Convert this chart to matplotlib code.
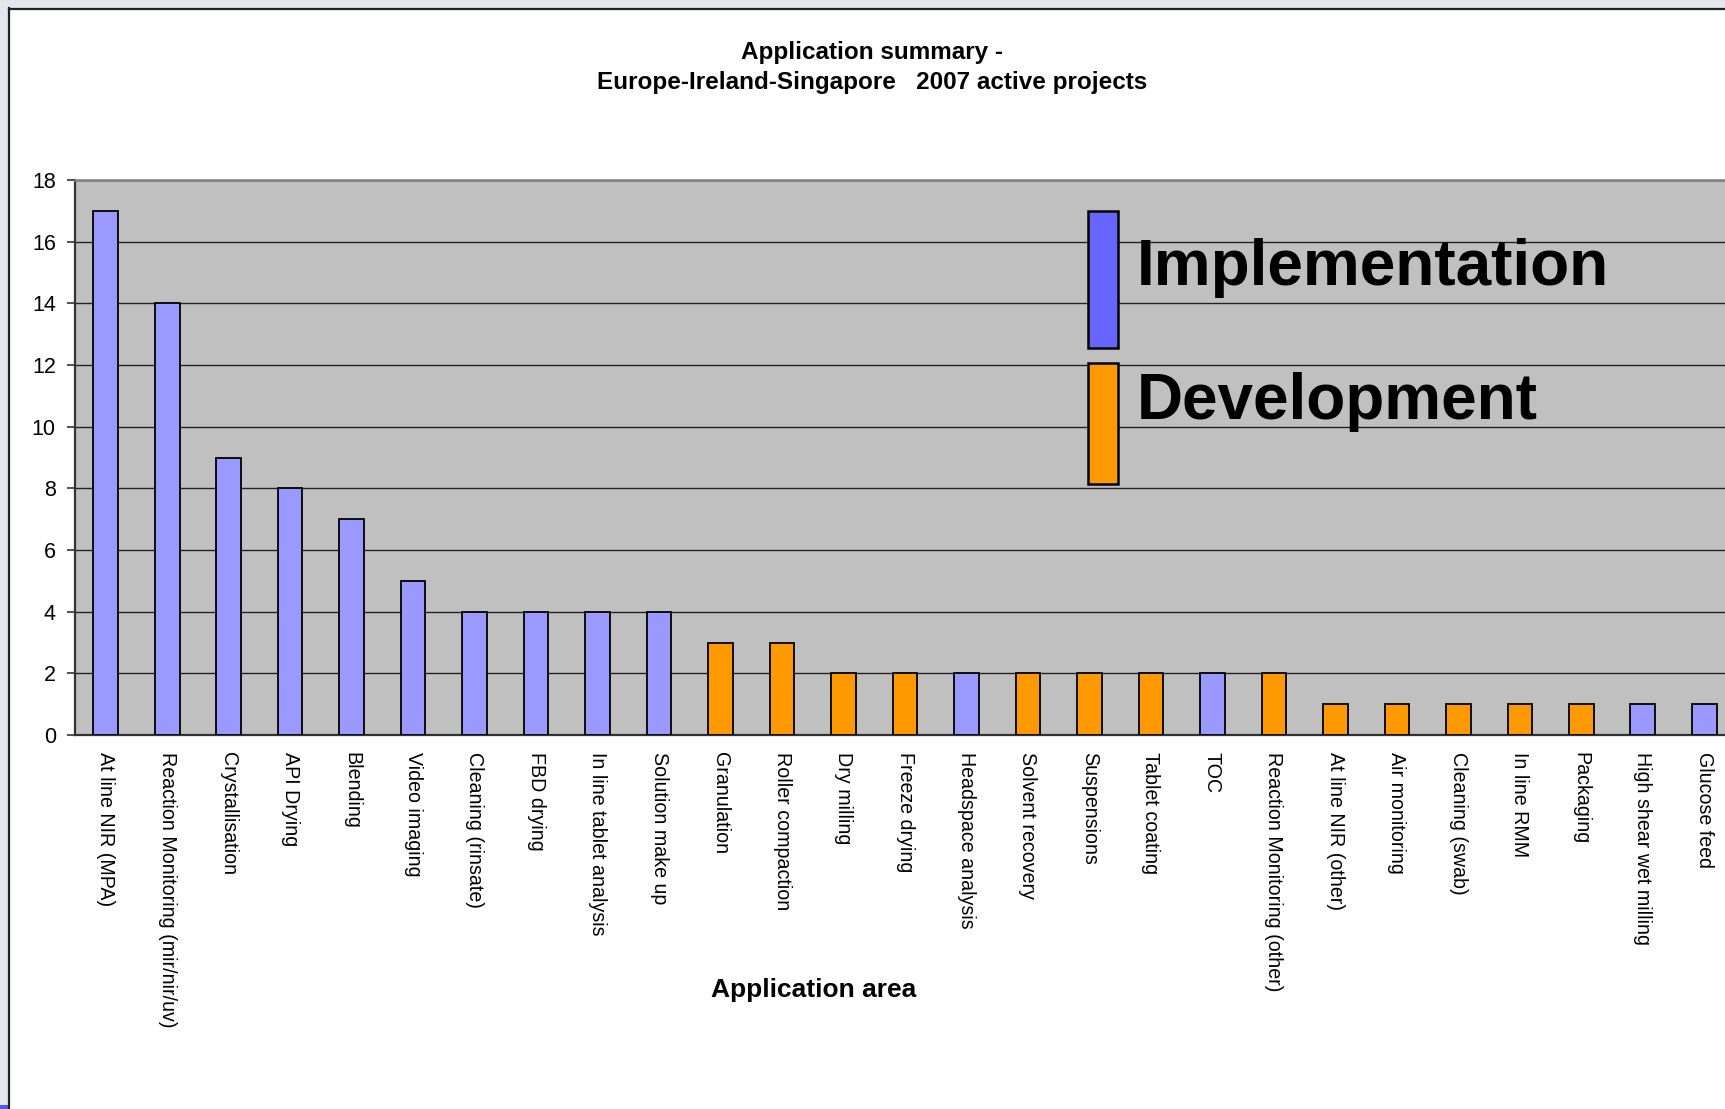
import matplotlib
matplotlib.use('Agg')
import matplotlib.pyplot as plt
from matplotlib.patches import Rectangle

# Project counts per application area, with the stage of each project
areas = ['At line NIR (MPA)', 'Reaction Monitoring (mir/nir/uv)', 'Crystallisation',
         'API Drying', 'Blending', 'Video imaging', 'Cleaning (rinsate)', 'FBD drying',
         'In line tablet analysis', 'Solution make up', 'Granulation', 'Roller compaction',
         'Dry milling', 'Freeze drying', 'Headspace analysis', 'Solvent recovery',
         'Suspensions', 'Tablet coating', 'TOC', 'Reaction Monitoring (other)',
         'At line NIR (other)', 'Air monitoring', 'Cleaning (swab)', 'In line RMM',
         'Packaging', 'High shear wet milling', 'Glucose feed']
projects = [17, 14, 9, 8, 7, 5, 4, 4, 4, 4, 3, 3, 2, 2, 2, 2, 2, 2, 2, 2,
            1, 1, 1, 1, 1, 1, 1]
stage = ['Implementation'] * 10 + ['Development'] * 4 + ['Implementation'] \
    + ['Development'] * 3 + ['Implementation'] + ['Development'] * 6 \
    + ['Implementation'] * 2
yticks = [0, 2, 4, 6, 8, 10, 12, 14, 16, 18]

bar_colours = {'Implementation': '#9999FF', 'Development': '#FF9900'}
key_colours = {'Implementation': '#6666FF', 'Development': '#FF9900'}

W, H = 1725, 1109
plt.rcParams['font.family'] = ['Liberation Sans', 'DejaVu Sans']

fig = plt.figure(figsize=(W / 100, H / 100), dpi=100)
fig.patch.set_facecolor('white')

# window-like frame round the chart
fig.add_artist(Rectangle((0, 0), 9 / W, 1, transform=fig.transFigure,
                         facecolor='#E6E7EE', edgecolor='none'))
fig.add_artist(Rectangle((0, 1 - 8 / H), 1, 8 / H, transform=fig.transFigure,
                         facecolor='#E6E7EE', edgecolor='none'))
fig.add_artist(plt.Line2D([9 / W, 9 / W], [0, 1 - 8 / H], transform=fig.transFigure,
                          color='#222222', lw=1.6))
fig.add_artist(plt.Line2D([9 / W, 1], [1 - 9 / H, 1 - 9 / H], transform=fig.transFigure,
                          color='#222222', lw=1.6))
fig.add_artist(Rectangle((0, 0), 8 / W, 4 / H, transform=fig.transFigure,
                         facecolor='#5555FF', edgecolor='none'))

left, right, top, bottom = 75, 1735, 180, 735
ax = fig.add_axes([left / W, 1 - bottom / H, (right - left) / W, (bottom - top) / H])
ax.set_facecolor('#C0C0C0')

x = range(len(areas))
ax.bar(x, projects, width=0.4, color=[bar_colours[s] for s in stage],
       edgecolor='black', linewidth=1.3, zorder=3)

ax.set_xlim(-0.5, len(areas) - 0.5)
ax.set_ylim(0, 18)
ax.set_yticks(yticks)
ax.yaxis.grid(True, color='#222222', linewidth=1.0, zorder=1)
ax.set_axisbelow(True)
ax.tick_params(axis='y', labelsize=15.5, length=5.8, width=1.2, pad=8, color='#333333')
ax.set_xticks(list(x))
ax.set_xticklabels(areas, rotation=270, fontsize=14.1, va='top', ha='center')
ax.tick_params(axis='x', length=0, pad=12)

ax.spines['top'].set_color('#808080')
ax.spines['top'].set_linewidth(1.8)
ax.spines['right'].set_visible(False)
ax.spines['left'].set_color('#333333')
ax.spines['left'].set_linewidth(1.6)
ax.spines['bottom'].set_color('#333333')
ax.spines['bottom'].set_linewidth(1.6)

fig.text(872 / W, 1 - 52 / H, 'Application summary -', ha='center', va='center',
         fontsize=17.5, fontweight='bold')
fig.text(872 / W, 1 - 83 / H, 'Europe-Ireland-Singapore   2007 active projects',
         ha='center', va='center', fontsize=17.5, fontweight='bold')
fig.text(814 / W, 1 - 990 / H, 'Application area', ha='center', va='center',
         fontsize=19, fontweight='bold')

# legend: tall swatches with large labels
for name, y0, y1, base in [('Implementation', 211, 348, 285),
                           ('Development', 363, 484, 419)]:
    fig.add_artist(Rectangle((1088 / W, 1 - y1 / H), 30 / W, (y1 - y0) / H,
                             transform=fig.transFigure, facecolor=key_colours[name],
                             edgecolor='black', linewidth=1.8, zorder=5))
    fig.text(1137 / W, 1 - base / H, name, ha='left', va='baseline', fontsize=46,
             fontweight='bold', zorder=5)

fig.savefig('out.png', dpi=100)
